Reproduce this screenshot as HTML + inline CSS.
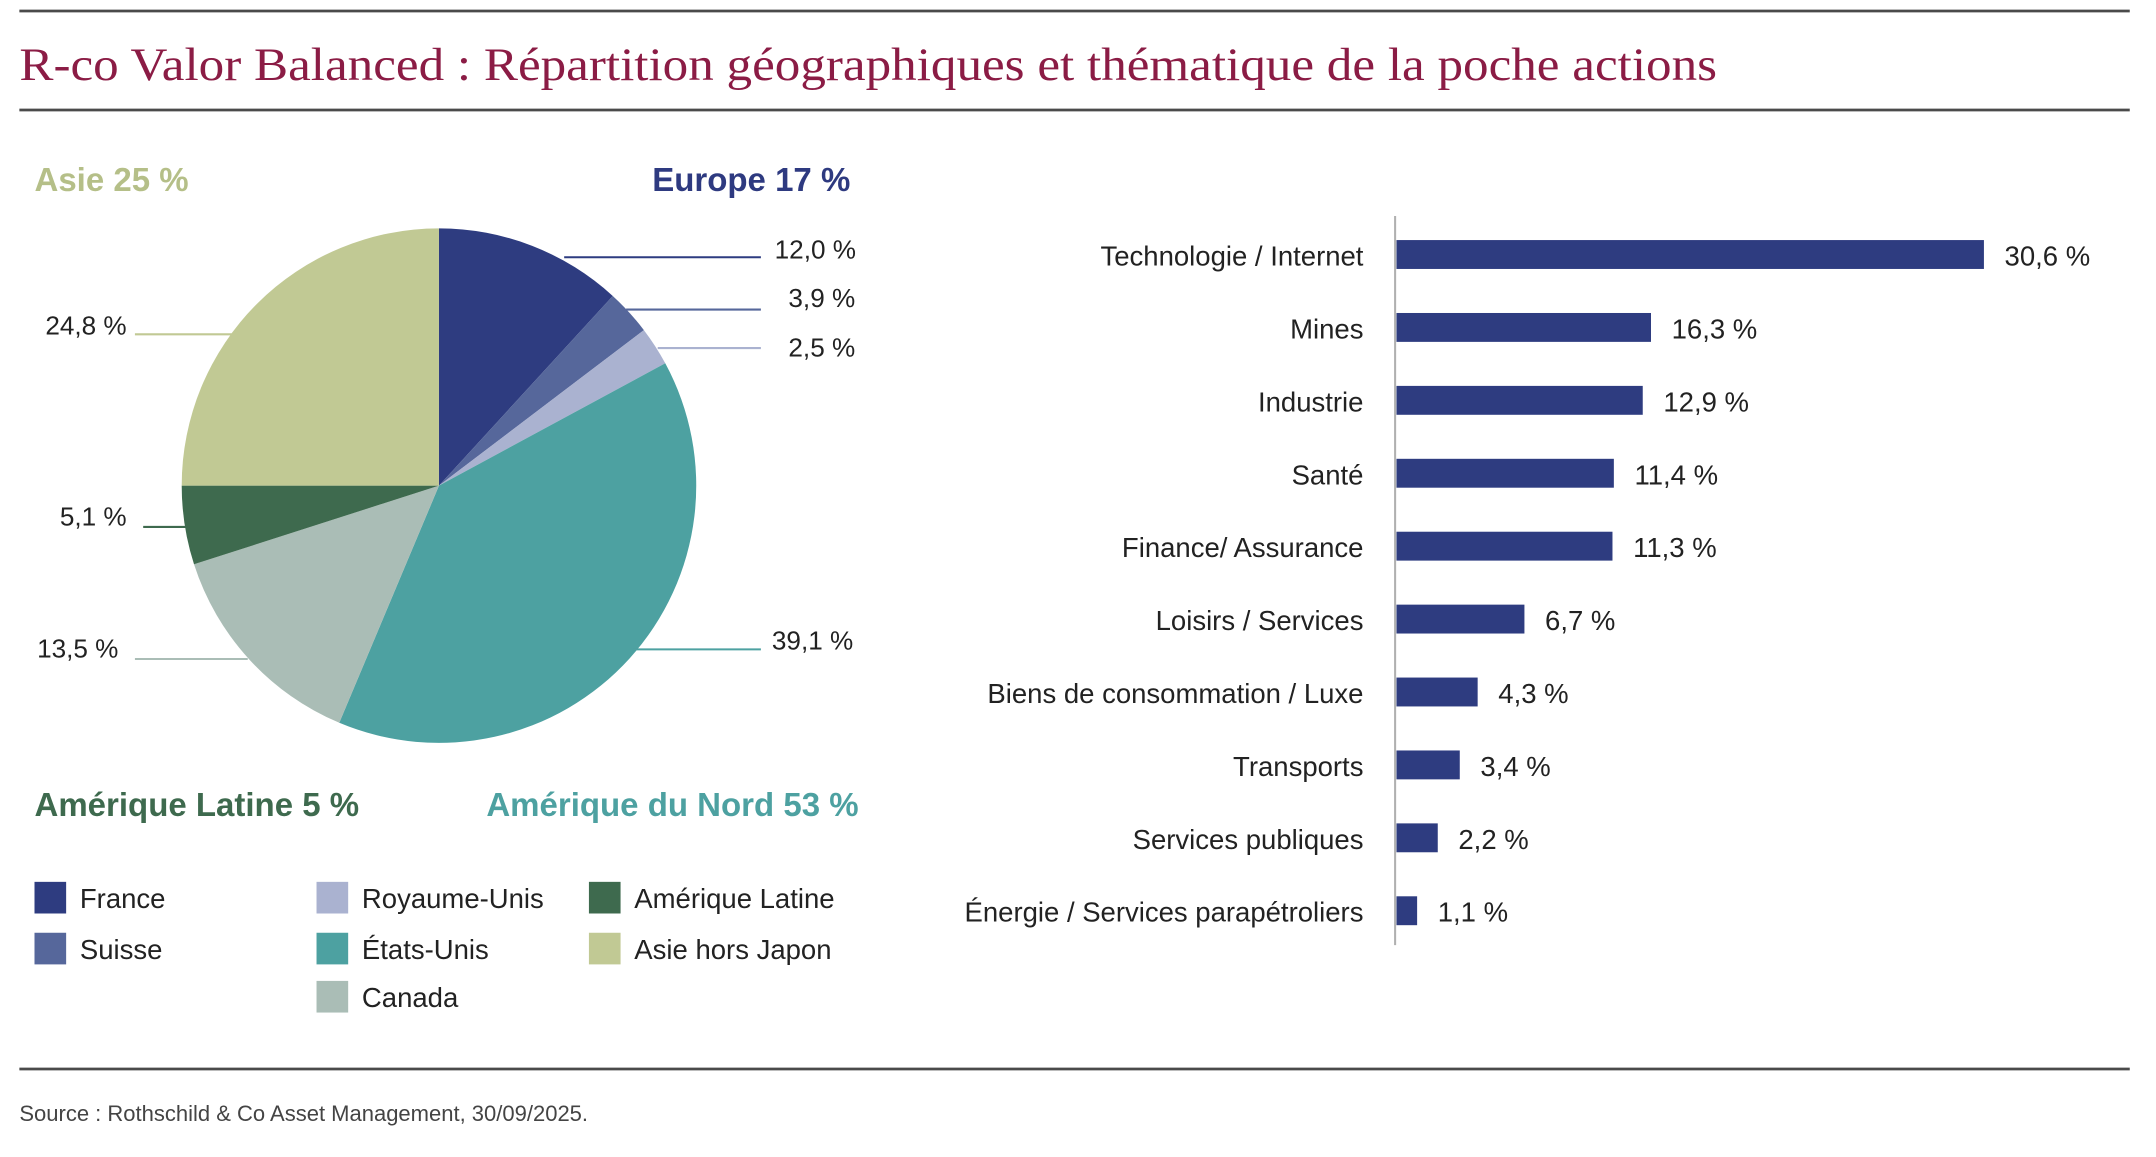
<!DOCTYPE html>
<html><head><meta charset="utf-8"><style>html,body{margin:0;padding:0;background:#fff}svg{display:block}</style></head>
<body>
<svg width="2156" height="1157" viewBox="0 0 1567 841" xmlns="http://www.w3.org/2000/svg" font-family="'Liberation Sans', sans-serif">
<line x1="14" y1="8" x2="1548" y2="8" stroke="#4a4a4a" stroke-width="2"/>
<text x="14" y="58" font-family="'Liberation Serif', serif" font-size="34" fill="#8b1c45" textLength="1234" lengthAdjust="spacingAndGlyphs">R-co Valor Balanced : Répartition géographiques et thématique de la poche actions</text>
<line x1="14" y1="80" x2="1548" y2="80" stroke="#4a4a4a" stroke-width="2"/>

<text x="25" y="139" font-size="24" font-weight="bold" fill="#b5bf88">Asie 25 %</text>
<text x="618" y="139" font-size="24" font-weight="bold" fill="#2e3a80" text-anchor="end">Europe 17 %</text>

<g id="pie"></g>
<g stroke-width="1.5">
<line x1="410" y1="187" x2="553" y2="187" stroke="#2e3c80"/>
<line x1="455" y1="225" x2="553" y2="225" stroke="#56679b"/>
<line x1="478" y1="253" x2="553" y2="253" stroke="#aab2d0"/>
<line x1="460" y1="472" x2="553" y2="472" stroke="#4da1a1"/>
<line x1="98" y1="243" x2="170" y2="243" stroke="#c1c994"/>
<line x1="104" y1="383" x2="135" y2="383" stroke="#3e6a4e"/>
<line x1="98" y1="479" x2="180" y2="479" stroke="#aabdb6"/>
</g>
<g font-size="19" fill="#222">
<text x="563" y="188">12,0 %</text>
<text x="573" y="223">3,9 %</text>
<text x="573" y="259">2,5 %</text>
<text x="561" y="472">39,1 %</text>
<text x="92" y="243" text-anchor="end">24,8 %</text>
<text x="92" y="382" text-anchor="end">5,1 %</text>
<text x="86" y="478" text-anchor="end">13,5 %</text>
</g>

<text x="25" y="593" font-size="24" font-weight="bold" fill="#3e6a4e">Amérique Latine 5 %</text>
<text x="624" y="593" font-size="24" font-weight="bold" fill="#4da1a1" text-anchor="end">Amérique du Nord 53 %</text>

<g font-size="20" fill="#222">
<rect x="25" y="641" width="23" height="23" fill="#2e3c80"/><text x="58" y="660">France</text>
<rect x="25" y="678" width="23" height="23" fill="#56679b"/><text x="58" y="697">Suisse</text>
<rect x="230" y="641" width="23" height="23" fill="#aab2d0"/><text x="263" y="660">Royaume-Unis</text>
<rect x="230" y="678" width="23" height="23" fill="#4da1a1"/><text x="263" y="697">États-Unis</text>
<rect x="230" y="713" width="23" height="23" fill="#aabdb6"/><text x="263" y="732">Canada</text>
<rect x="428" y="641" width="23" height="23" fill="#3e6a4e"/><text x="461" y="660">Amérique Latine</text>
<rect x="428" y="678" width="23" height="23" fill="#c1c994"/><text x="461" y="697">Asie hors Japon</text>
</g>

<line x1="1014" y1="157" x2="1014" y2="687" stroke="#b0b0b0" stroke-width="1.5"/>
<g id="bars" font-size="20" fill="#222"></g>

<line x1="14" y1="777" x2="1548" y2="777" stroke="#4a4a4a" stroke-width="2"/>
<text x="14" y="815" font-size="16" fill="#444">Source : Rothschild &amp; Co Asset Management, 30/09/2025.</text>
</svg>
<script>
(function(){
var ns="http://www.w3.org/2000/svg";
var cx=319,cy=353,r=187;
var d=[[0,42.5,"#2e3c80"],[42.5,52.8,"#56679b"],[52.8,61.6,"#aab2d0"],[61.6,202.8,"#4da1a1"],[202.8,252.2,"#aabdb6"],[252.2,270,"#3e6a4e"],[270,360,"#c1c994"]];
var g=document.getElementById("pie");
d.forEach(function(s){
 var a0=s[0]*Math.PI/180,a1=s[1]*Math.PI/180;
 var x0=cx+r*Math.sin(a0),y0=cy-r*Math.cos(a0),x1=cx+r*Math.sin(a1),y1=cy-r*Math.cos(a1);
 var p=document.createElementNS(ns,"path");
 p.setAttribute("d","M"+cx+","+cy+"L"+x0+","+y0+"A"+r+","+r+" 0 "+((a1-a0)>Math.PI?1:0)+" 1 "+x1+","+y1+"Z");
 p.setAttribute("fill",s[2]);g.appendChild(p);
});
var b=[["Technologie / Internet","30,6",1442],["Mines","16,3",1200],["Industrie","12,9",1194],["Santé","11,4",1173],["Finance/ Assurance","11,3",1172],["Loisirs / Services","6,7",1108],["Biens de consommation / Luxe","4,3",1074],["Transports","3,4",1061],["Services publiques","2,2",1045],["Énergie / Services parapétroliers","1,1",1030]];
var bg=document.getElementById("bars");
b.forEach(function(v,i){
 var y=185+i*53,w=v[2]-1015;
 var rc=document.createElementNS(ns,"rect");
 rc.setAttribute("x",1015);rc.setAttribute("y",y-10.5);rc.setAttribute("width",w);rc.setAttribute("height",21);rc.setAttribute("fill","#2e3c80");bg.appendChild(rc);
 var t=document.createElementNS(ns,"text");t.setAttribute("x",991);t.setAttribute("y",y+8);t.setAttribute("text-anchor","end");t.textContent=v[0];bg.appendChild(t);
 var t2=document.createElementNS(ns,"text");t2.setAttribute("x",v[2]+15);t2.setAttribute("y",y+8);t2.textContent=v[1]+" %";bg.appendChild(t2);
});
})();
</script>
</body></html>
